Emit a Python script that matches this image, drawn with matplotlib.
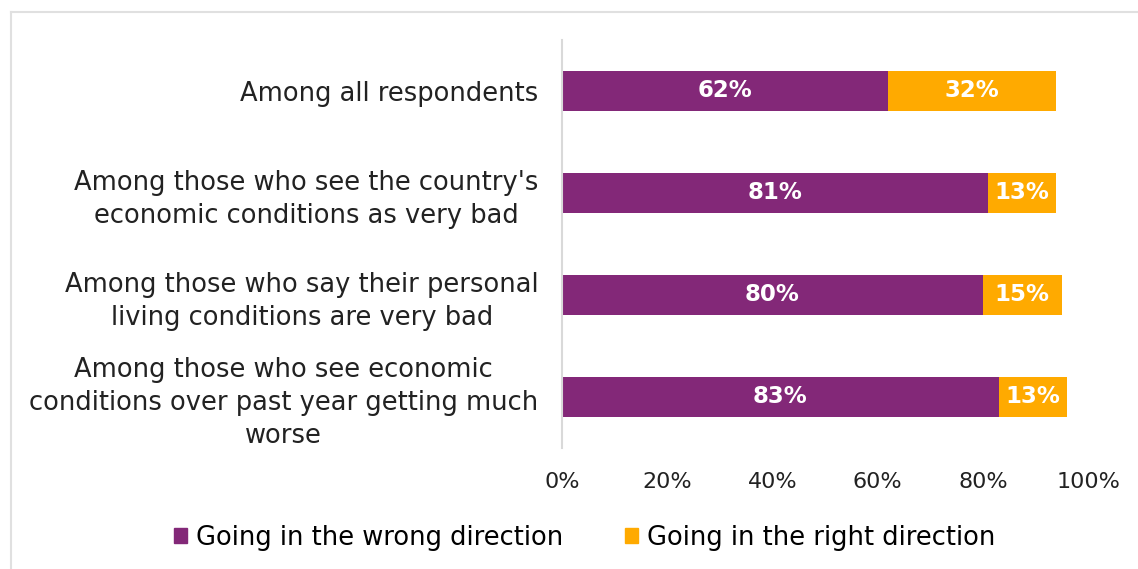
import numpy as np
import matplotlib.pyplot as plt
from matplotlib.patches import Patch

# survey breakdown, top to bottom
groups = ["Among all respondents",
          "Among those who see the country's\neconomic conditions as very bad",
          "Among those who say their personal\nliving conditions are very bad",
          "Among those who see economic\nconditions over past year getting much\nworse"]
wrong = [62, 81, 80, 83]
right = [32, 13, 15, 13]
ticks = [0, 20, 40, 60, 80, 100]

purple = "#832878"
orange = "#FFAA00"

plt.rcParams['font.family'] = ['DejaVu Sans']

fig = plt.figure(figsize=(11.38, 5.69), dpi=100)
ax = fig.add_axes([0.4939, 0.2127, 0.4622, 0.717])

y = np.arange(len(groups))
ax.barh(y, wrong, height=0.39, color=purple)
ax.barh(y, right, left=wrong, height=0.39, color=orange)

for i in range(len(groups)):
    ax.text(wrong[i] / 2, y[i], f"{wrong[i]}%", ha="center", va="center",
            color="white", fontsize=16.5, fontweight="bold")
    ax.text(wrong[i] + right[i] / 2, y[i], f"{right[i]}%", ha="center", va="center",
            color="white", fontsize=16.5, fontweight="bold")

ax.set_xlim(0, 100)
ax.set_ylim(len(groups) - 0.5, -0.5)
ax.set_xticks(ticks)
ax.set_xticklabels([f"{t}%" for t in ticks], fontsize=16, color="#222222")
ax.set_yticks(y)
ax.set_yticklabels(groups, fontsize=18.5, color="#222222", linespacing=1.35)
for lbl in ax.get_yticklabels():
    lbl.set_multialignment("center")
ax.tick_params(length=0)
ax.tick_params(axis="y", pad=17)
ax.tick_params(axis="x", pad=17)

for s in ["top", "right", "bottom"]:
    ax.spines[s].set_visible(False)
ax.spines["left"].set_color("#d9d9d9")
ax.spines["left"].set_linewidth(1.5)

# outer frame (left and top edges)
fig.add_artist(plt.Line2D([0.0097, 0.0097], [0, 0.979], color="#e0e0e0", lw=1.5))
fig.add_artist(plt.Line2D([0.0097, 1.0], [0.979, 0.979], color="#e0e0e0", lw=1.5))

handles = [Patch(color=purple, label="Going in the wrong direction"),
           Patch(color=orange, label="Going in the right direction")]
fig.legend(handles=handles, loc="center", bbox_to_anchor=(0.514, 0.055), ncol=2,
           frameon=False, fontsize=18.5, handlelength=0.5, handleheight=0.5,
           handletextpad=0.35, columnspacing=2.4)

fig.savefig("out.png", dpi=100)
